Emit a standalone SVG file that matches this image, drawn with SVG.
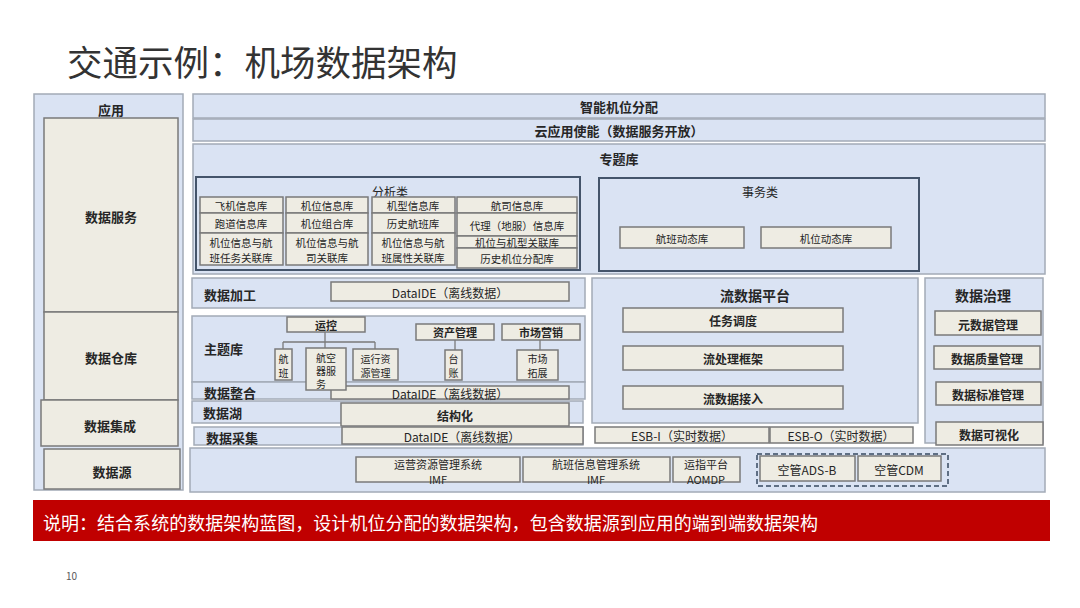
<svg xmlns="http://www.w3.org/2000/svg" width="1080" height="608" viewBox="0 0 1080 608">
<style>
text{font-family:"Noto Sans CJK SC","Noto Sans",sans-serif;fill:#262626;}
.c{text-anchor:middle;dominant-baseline:central;}
.l{dominant-baseline:central;}
.b{font-weight:bold;}
.panel{fill:#dae3f3;stroke:#a3abb7;stroke-width:1.5;}
.box{fill:#eeece3;stroke:#7a7a7a;stroke-width:1.5;}
.grp{fill:none;stroke:#44546a;stroke-width:2;}
.t14{font-size:14px;}
.t13{font-size:13px;}
.t12{font-size:12px;}
.t11{font-size:11px;}
.t10{font-size:10.5px;}
.ts{font-size:10px;}
.conn{fill:none;stroke:#7a7a7a;stroke-width:1.3;}
</style>
<rect width="1080" height="608" fill="#ffffff"/>
<text x="67" y="76" font-size="35.5" style="fill:#333333">交通示例：机场数据架构</text>

<g id="left-column">
<rect class="panel" x="34" y="94" width="149" height="396"/>
<text class="c b t13" x="111" y="109">应用</text>
<rect class="box" x="44" y="118" width="134" height="194"/>
<text class="c b t13" x="111" y="216">数据服务</text>
<rect class="box" x="44" y="312" width="134" height="88"/>
<text class="c b t13" x="111" y="357">数据仓库</text>
<rect class="box" x="41" y="400" width="137" height="46"/>
<text class="c b t13" x="110" y="425">数据集成</text>
<rect class="box" x="44" y="449" width="136" height="40"/>
<text class="c b t13" x="112" y="471">数据源</text>
</g>

<g id="top-bars">
<rect class="panel" x="193" y="94" width="852" height="24"/>
<text class="c b t13" x="619" y="106">智能机位分配</text>
<rect class="panel" x="193" y="119" width="852" height="22"/>
<text class="c b t13" x="619" y="130">云应用使能（数据服务开放）</text>
</g>

<g id="topic-db">
<rect class="panel" x="193" y="144" width="852" height="130"/>
<text class="c b t13" x="619" y="158">专题库</text>
</g>

<g id="analysis">
<rect class="grp" x="196" y="177" width="384" height="93"/>
<text class="c t12" x="390" y="191">分析类</text>
<rect class="box" x="200" y="197" width="83" height="16"/>
<rect class="box" x="200" y="213" width="83" height="20"/>
<rect class="box" x="200" y="233" width="83" height="32"/>
<rect class="box" x="286" y="197" width="82" height="16"/>
<rect class="box" x="286" y="213" width="82" height="20"/>
<rect class="box" x="286" y="233" width="82" height="32"/>
<rect class="box" x="372" y="197" width="83" height="16"/>
<rect class="box" x="372" y="213" width="83" height="20"/>
<rect class="box" x="372" y="233" width="83" height="32"/>
<rect class="box" x="457" y="197" width="120" height="16"/>
<rect class="box" x="457" y="213" width="120" height="23"/>
<rect class="box" x="457" y="236" width="120" height="12"/>
<rect class="box" x="457" y="248" width="120" height="20"/>
<text class="c t10" x="241" y="205">飞机信息库</text>
<text class="c t10" x="241" y="223">跑道信息库</text>
<text class="c t10" x="241" y="242">机位信息与航</text>
<text class="c t10" x="241" y="257">班任务关联库</text>
<text class="c t10" x="327" y="205">机位信息库</text>
<text class="c t10" x="327" y="223">机位组合库</text>
<text class="c t10" x="327" y="242">机位信息与航</text>
<text class="c t10" x="327" y="257">司关联库</text>
<text class="c t10" x="413" y="205">机型信息库</text>
<text class="c t10" x="413" y="223">历史航班库</text>
<text class="c t10" x="413" y="242">机位信息与航</text>
<text class="c t10" x="413" y="257">班属性关联库</text>
<text class="c t10" x="517" y="205">航司信息库</text>
<text class="c t10" x="517" y="225">代理（地服）信息库</text>
<text class="c t10" x="517" y="242">机位与机型关联库</text>
<text class="c t10" x="517" y="258">历史机位分配库</text>
</g>

<g id="transaction">
<rect class="grp" x="599" y="178" width="320" height="93"/>
<text class="c t12" x="760" y="191">事务类</text>
<rect class="box" x="620" y="227" width="124" height="21"/>
<text class="c t10" x="682" y="238">航班动态库</text>
<rect class="box" x="761" y="227" width="130" height="21"/>
<text class="c t10" x="826" y="238">机位动态库</text>
</g>

<g id="data-processing">
<rect class="panel" x="192" y="278" width="393" height="30"/>
<text class="l b t13" x="204" y="294">数据加工</text>
<rect class="box" x="331" y="282" width="238" height="19"/>
<text class="c t12" x="450" y="292">DataIDE（离线数据）</text>
</g>

<g id="subject-db">
<rect class="panel" x="192" y="316" width="393" height="66"/>
<text class="l b t13" x="204" y="348">主题库</text>
<rect class="box" x="287" y="317" width="78" height="15"/>
<text class="c b t11" x="326" y="325">运控</text>
<rect class="box" x="416" y="324" width="78" height="16"/>
<text class="c b t11" x="455" y="332">资产管理</text>
<rect class="box" x="502" y="324" width="78" height="16"/>
<text class="c b t11" x="541" y="332">市场营销</text>
<rect class="box" x="275" y="349" width="17" height="31"/>
<text class="c ts" x="283.5" y="358">航</text>
<text class="c ts" x="283.5" y="372">班</text>
<rect class="box" x="353" y="349" width="45" height="31"/>
<text class="c ts" x="375.5" y="358">运行资</text>
<text class="c ts" x="375.5" y="372">源管理</text>
<rect class="box" x="445" y="350" width="17" height="30"/>
<text class="c ts" x="453.5" y="358">台</text>
<text class="c ts" x="453.5" y="372">账</text>
<rect class="box" x="517" y="350" width="41" height="30"/>
<text class="c ts" x="537.5" y="358">市场</text>
<text class="c ts" x="537.5" y="372">拓展</text>
</g>

<g id="data-integration">
<rect class="panel" x="192" y="382" width="393" height="17"/>
<text class="l b t13" x="204" y="392">数据整合</text>
<rect class="box" x="331" y="386" width="238" height="13"/>
<text class="c t12" x="450" y="393">DataIDE（离线数据）</text>
</g>

<g id="aircraft-service">
<rect class="box" x="306" y="348" width="40" height="42"/>
<text class="c ts" x="326" y="357">航空</text>
<text class="c ts" x="326" y="370">器服</text>
<text class="c ts" x="321" y="383">务</text>
</g>

<g id="data-lake">
<rect class="panel" x="192" y="401" width="391" height="22"/>
<text class="l b t13" x="203" y="412">数据湖</text>
<rect class="box" x="341" y="403" width="228" height="23"/>
<text class="c b t12" x="455" y="415">结构化</text>
</g>

<g id="data-collection">
<rect class="panel" x="194" y="427" width="389" height="18"/>
<text class="l b t13" x="206" y="437">数据采集</text>
<rect class="box" x="342" y="427" width="241" height="17"/>
<text class="c t12" x="462" y="436">DataIDE（离线数据）</text>
</g>

<g id="stream-platform">
<rect class="panel" x="592" y="278" width="326" height="145"/>
<text class="c b t14" x="755" y="295">流数据平台</text>
<rect class="box" x="623" y="308" width="220" height="24"/>
<text class="c b t12" x="733" y="320">任务调度</text>
<rect class="box" x="623" y="346" width="220" height="24"/>
<text class="c b t12" x="733" y="358">流处理框架</text>
<rect class="box" x="623" y="386" width="220" height="23"/>
<text class="c b t12" x="733" y="398">流数据接入</text>
</g>

<g id="esb">
<rect class="box" x="595" y="427" width="174" height="16"/>
<text class="c t12" x="682" y="435">ESB-I（实时数据）</text>
<rect class="box" x="770" y="427" width="143" height="16"/>
<text class="c t12" x="841" y="435">ESB-O（实时数据）</text>
</g>

<g id="governance">
<rect class="panel" x="925" y="278" width="118" height="165"/>
<text class="c b t14" x="983" y="295">数据治理</text>
<rect class="box" x="935" y="311" width="106" height="24"/>
<text class="c b t12" x="988" y="324">元数据管理</text>
<rect class="box" x="934" y="346" width="106" height="23"/>
<text class="c b t12" x="987" y="358">数据质量管理</text>
<rect class="box" x="936" y="382" width="105" height="23"/>
<text class="c b t12" x="988" y="394">数据标准管理</text>
<rect class="box" x="936" y="422" width="107" height="23"/>
<text class="c b t12" x="989" y="434">数据可视化</text>
</g>

<g id="data-source">
<rect class="panel" x="190" y="448" width="855" height="44"/>
<rect class="box" x="356" y="457" width="164" height="25"/>
<text class="c t11" x="438" y="464">运营资源管理系统</text>
<text class="c t11" x="438" y="479">IMF</text>
<rect class="box" x="523" y="457" width="147" height="25"/>
<text class="c t11" x="596" y="464">航班信息管理系统</text>
<text class="c t11" x="596" y="479">IMF</text>
<rect class="box" x="673" y="457" width="67" height="25"/>
<text class="c t11" x="706" y="464">运指平台</text>
<text class="c t11" x="706" y="479">AOMDP</text>
<rect x="757" y="454" width="191" height="32" fill="none" stroke="#5f6f84" stroke-width="2" stroke-dasharray="5 3"/>
<rect class="box" x="760" y="456" width="95" height="25"/>
<text class="c t12" x="807" y="469">空管ADS-B</text>
<rect class="box" x="858" y="456" width="83" height="25"/>
<text class="c t12" x="899" y="469">空管CDM</text>
</g>

<g id="connectors">
<path class="conn" d="M325 332 V342 M283 342 H375 M283 342 V349 M325 342 V348 M375 342 V349 M455 340 V350 M540 340 V350"/>
</g>

<g id="note">
<rect x="33" y="500" width="1017" height="41" fill="#c00000"/>
<text x="43" y="522" font-size="18" dominant-baseline="central" style="fill:#ffffff" textLength="775" lengthAdjust="spacingAndGlyphs">说明：结合系统的数据架构蓝图，设计机位分配的数据架构，包含数据源到应用的端到端数据架构</text>
</g>
<text x="66" y="580" font-size="10" style="fill:#595959">10</text>
</svg>
